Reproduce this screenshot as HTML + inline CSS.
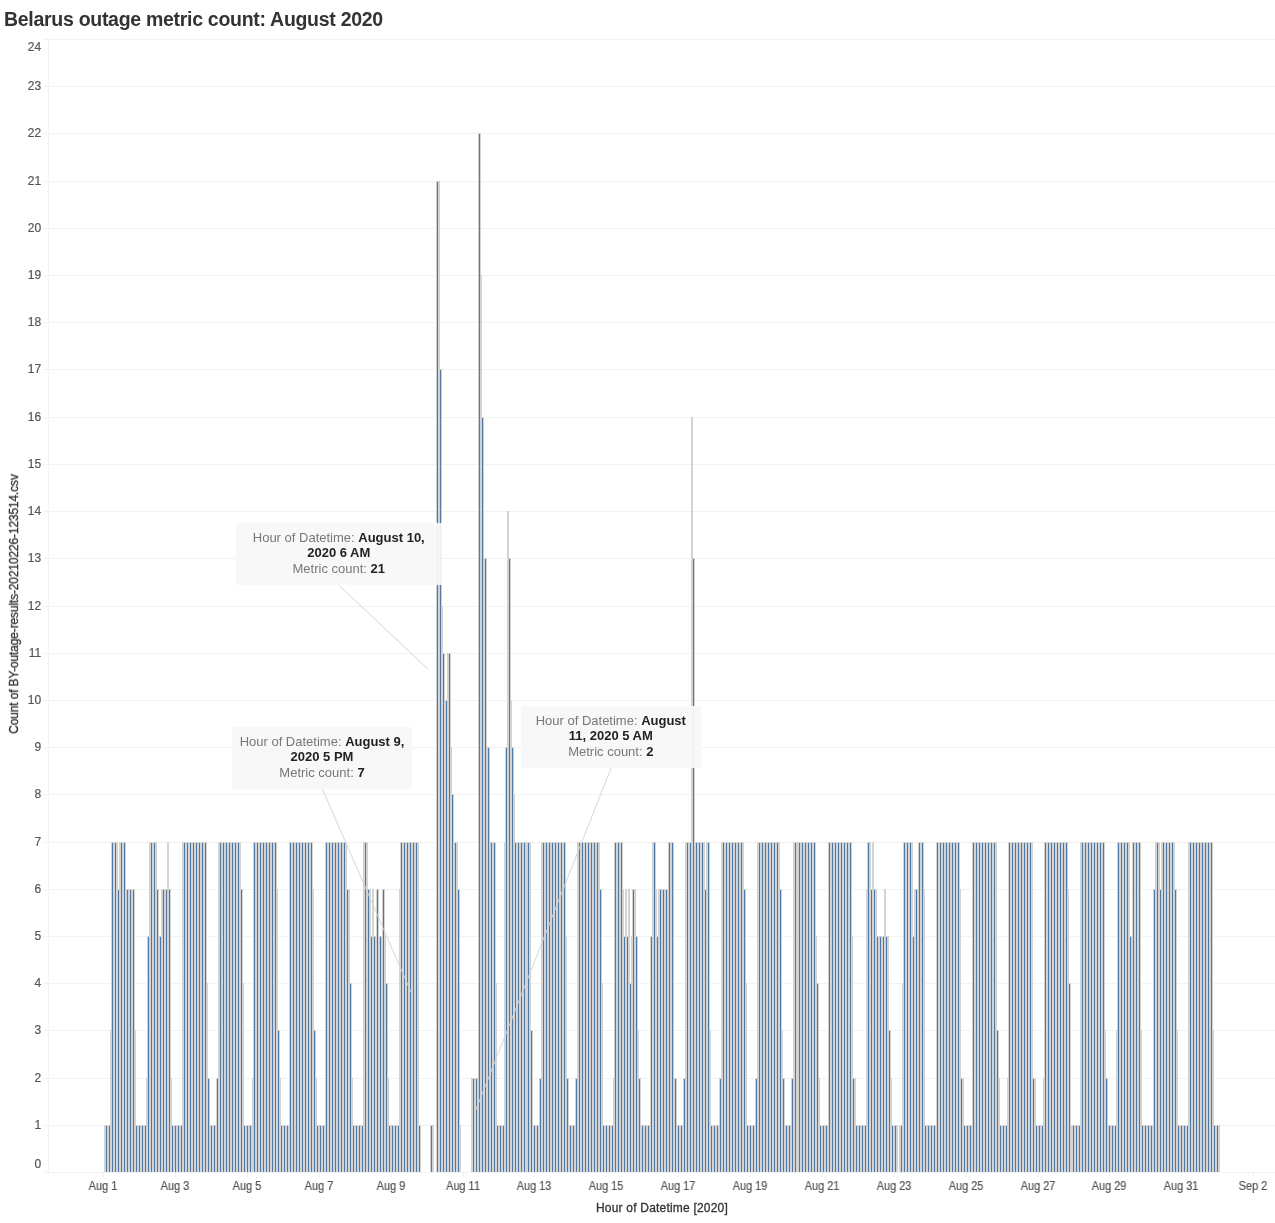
<!DOCTYPE html><html><head><meta charset="utf-8"><title>Belarus outage metric count: August 2020</title><style>
html,body{margin:0;padding:0;background:#fff}
body{width:1275px;height:1223px;position:relative;overflow:hidden;font-family:"Liberation Sans",sans-serif}
.t{position:absolute;white-space:nowrap;line-height:1;will-change:transform}
.yl{font-size:12px;color:#555;-webkit-text-stroke:0.2px #555;width:41.2px;text-align:right;left:0}
.xl{font-size:12px;color:#555;-webkit-text-stroke:0.2px #555;width:60px;text-align:center;transform:scaleX(0.91);transform-origin:50% 50%}
.box{position:absolute;background:rgba(248,248,248,0.94);font-size:13px;color:#787878;text-align:center;line-height:15.3px;box-sizing:border-box;will-change:transform}
.box b{color:#222}

</style></head><body>
<svg width="1275" height="1223" viewBox="0 0 1275 1223" style="position:absolute;left:0;top:0" shape-rendering="crispEdges"><path d="M43 1172.5H1275M43 1125.5H1275M43 1078.5H1275M43 1030.5H1275M43 983.5H1275M43 936.5H1275M43 889.5H1275M43 842.5H1275M43 794.5H1275M43 747.5H1275M43 700.5H1275M43 653.5H1275M43 606.5H1275M43 558.5H1275M43 511.5H1275M43 464.5H1275M43 417.5H1275M43 369.5H1275M43 322.5H1275M43 275.5H1275M43 228.5H1275M43 181.5H1275M43 133.5H1275M43 86.5H1275M43 39.5H1275" stroke="#f2f2f2" stroke-width="1" fill="none"/><path d="M48.5 39V1174" stroke="#f4f4f4" stroke-width="1" fill="none"/><path d="M103.5 1173V1177M175.5 1173V1177M247.5 1173V1177M319.5 1173V1177M391.5 1173V1177M463.5 1173V1177M534.5 1173V1177M606.5 1173V1177M678.5 1173V1177M750.5 1173V1177M822.5 1173V1177M894.5 1173V1177M966.5 1173V1177M1038.5 1173V1177M1109.5 1173V1177M1181.5 1173V1177M1253.5 1173V1177" stroke="#efefef" stroke-width="1" fill="none"/><path d="M83.5 1173V1174M119.5 1173V1174M155.5 1173V1174M191.5 1173V1174M227.5 1173V1174M263.5 1173V1174M299.5 1173V1174M335.5 1173V1174M371.5 1173V1174M407.5 1173V1174M443.5 1173V1174M479.5 1173V1174M515.5 1173V1174M550.5 1173V1174M586.5 1173V1174M622.5 1173V1174M658.5 1173V1174M694.5 1173V1174M730.5 1173V1174M766.5 1173V1174M802.5 1173V1174M838.5 1173V1174M874.5 1173V1174M910.5 1173V1174M946.5 1173V1174M982.5 1173V1174M1018.5 1173V1174M1054.5 1173V1174M1089.5 1173V1174M1125.5 1173V1174M1161.5 1173V1174M1197.5 1173V1174M1233.5 1173V1174M1269.5 1173V1174" stroke="#f4f4f4" stroke-width="1" fill="none"/><path d="M104 1125H110V1172H104ZM110 1030H111V1172H110ZM111 842H118V1172H111ZM118 889H119V1172H118ZM119 842H126V1172H119ZM126 889H135V1172H126ZM135 1030H136V1172H135ZM136 1125H146V1172H136ZM146 1078H147V1172H146ZM147 936H149V1172H147ZM149 842H157V1172H149ZM157 889H159V1172H157ZM159 936H161V1172H159ZM161 889H167V1172H161ZM167 842H169V1172H167ZM169 889H171V1172H169ZM171 1078H172V1172H171ZM172 1125H182V1172H172ZM182 842H207V1172H182ZM207 983H208V1172H207ZM208 1078H210V1172H208ZM210 1125H216V1172H210ZM216 1078H218V1172H216ZM218 842H241V1172H218ZM241 889H243V1172H241ZM243 983H244V1172H243ZM244 1125H252V1172H244ZM252 1078H253V1172H252ZM253 842H277V1172H253ZM277 889H278V1172H277ZM278 1030H280V1172H278ZM280 1078H281V1172H280ZM281 1125H289V1172H281ZM289 842H313V1172H289ZM313 889H314V1172H313ZM314 1030H316V1172H314ZM316 1078H317V1172H316ZM317 1125H325V1172H317ZM325 842H347V1172H325ZM347 889H350V1172H347ZM350 983H352V1172H350ZM352 1078H353V1172H352ZM353 1125H363V1172H353ZM363 842H368V1172H363ZM368 889H371V1172H368ZM371 936H372V1172H371ZM372 889H374V1172H372ZM374 936H376V1172H374ZM376 889H379V1172H376ZM379 936H382V1172H379ZM382 889H385V1172H382ZM385 936H386V1172H385ZM386 983H388V1172H386ZM388 1078H389V1172H388ZM389 1125H399V1172H389ZM399 889H400V1172H399ZM400 842H419V1172H400ZM419 1125H421V1172H419ZM430 1125H434V1172H430ZM436 181H440V1172H436ZM440 369H442V1172H440ZM442 606H443V1172H442ZM443 653H445V1172H443ZM445 700H447V1172H445ZM447 653H451V1172H447ZM451 747H452V1172H451ZM452 794H454V1172H452ZM454 842H458V1172H454ZM458 889H460V1172H458ZM460 1125H461V1172H460ZM471 1078H478V1172H471ZM478 133H481V1172H478ZM481 275H482V1172H481ZM482 417H484V1172H482ZM484 558H487V1172H484ZM487 747H490V1172H487ZM490 842H496V1172H490ZM496 983H497V1172H496ZM497 1125H504V1172H497ZM504 842H505V1172H504ZM505 747H507V1172H505ZM507 511H509V1172H507ZM509 558H511V1172H509ZM511 700H512V1172H511ZM512 747H514V1172H512ZM514 794H515V1172H514ZM515 842H531V1172H515ZM531 1030H533V1172H531ZM533 1125H539V1172H533ZM539 1078H541V1172H539ZM541 842H566V1172H541ZM566 936H567V1172H566ZM567 1078H569V1172H567ZM569 1125H575V1172H569ZM575 1078H577V1172H575ZM577 842H600V1172H577ZM600 889H602V1172H600ZM602 983H603V1172H602ZM603 1125H613V1172H603ZM613 1078H614V1172H613ZM614 842H623V1172H614ZM623 889H624V1172H623ZM624 936H625V1172H624ZM625 889H627V1172H625ZM627 936H628V1172H627ZM628 889H630V1172H628ZM630 983H631V1172H630ZM631 936H632V1172H631ZM632 889H636V1172H632ZM636 936H638V1172H636ZM638 1030H639V1172H638ZM639 1078H641V1172H639ZM641 1125H650V1172H641ZM650 936H652V1172H650ZM652 842H656V1172H652ZM656 889H657V1172H656ZM657 936H658V1172H657ZM658 889H668V1172H658ZM668 842H674V1172H668ZM674 1078H677V1172H674ZM677 1125H683V1172H677ZM683 1078H685V1172H683ZM685 842H691V1172H685ZM691 417H693V1172H691ZM693 558H695V1172H693ZM695 842H705V1172H695ZM705 889H706V1172H705ZM706 842H710V1172H706ZM710 1030H711V1172H710ZM711 1125H719V1172H711ZM719 1078H721V1172H719ZM721 842H744V1172H721ZM744 889H746V1172H744ZM746 983H747V1172H746ZM747 1125H755V1172H747ZM755 1078H757V1172H755ZM757 842H780V1172H757ZM780 889H782V1172H780ZM782 1030H783V1172H782ZM783 1078H785V1172H783ZM785 1125H791V1172H785ZM791 1078H793V1172H791ZM793 842H816V1172H793ZM816 936H817V1172H816ZM817 983H819V1172H817ZM819 1078H820V1172H819ZM820 1125H828V1172H820ZM828 842H852V1172H828ZM852 936H853V1172H852ZM853 1078H856V1172H853ZM856 1125H866V1172H856ZM866 889H867V1172H866ZM867 842H871V1172H867ZM871 889H872V1172H871ZM872 842H874V1172H872ZM874 889H877V1172H874ZM877 936H884V1172H877ZM884 889H886V1172H884ZM886 936H889V1172H886ZM889 1030H891V1172H889ZM891 1078H892V1172H891ZM892 1125H898V1172H892ZM899 1125H902V1172H899ZM902 983H903V1172H902ZM903 842H913V1172H903ZM913 936H914V1172H913ZM914 889H918V1172H914ZM918 842H924V1172H918ZM924 889H925V1172H924ZM925 1125H936V1172H925ZM936 842H960V1172H936ZM960 889H961V1172H960ZM961 1078H964V1172H961ZM964 1125H972V1172H964ZM972 842H997V1172H972ZM997 1030H999V1172H997ZM999 1078H1000V1172H999ZM1000 1125H1007V1172H1000ZM1007 1078H1008V1172H1007ZM1008 842H1033V1172H1008ZM1033 1078H1036V1172H1033ZM1036 1125H1043V1172H1036ZM1043 1078H1044V1172H1043ZM1044 842H1068V1172H1044ZM1068 889H1069V1172H1068ZM1069 983H1071V1172H1069ZM1071 1125H1080V1172H1071ZM1080 842H1105V1172H1080ZM1105 1030H1106V1172H1105ZM1106 1078H1108V1172H1106ZM1108 1125H1116V1172H1108ZM1116 1030H1117V1172H1116ZM1117 842H1130V1172H1117ZM1130 936H1132V1172H1130ZM1132 842H1141V1172H1132ZM1141 1030H1142V1172H1141ZM1142 1125H1153V1172H1142ZM1153 889H1155V1172H1153ZM1155 842H1160V1172H1155ZM1160 889H1161V1172H1160ZM1161 842H1175V1172H1161ZM1175 889H1177V1172H1175ZM1177 1030H1178V1172H1177ZM1178 1125H1188V1172H1178ZM1188 842H1213V1172H1188ZM1213 1030H1214V1172H1213ZM1214 1125H1220V1172H1214Z" fill="#d3d3d3"/><path d="M106.5 1126V1172M109.5 1126V1172M112.5 843V1172M115.5 843V1172M118.5 890V1172M121.5 843V1172M124.5 843V1172M127.5 890V1172M130.5 890V1172M133.5 890V1172M136.5 1126V1172M139.5 1126V1172M142.5 1126V1172M145.5 1126V1172M148.5 937V1172M151.5 843V1172M154.5 843V1172M157.5 890V1172M160.5 937V1172M163.5 890V1172M166.5 890V1172M169.5 890V1172M172.5 1126V1172M175.5 1126V1172M178.5 1126V1172M181.5 1126V1172M184.5 843V1172M187.5 843V1172M190.5 843V1172M193.5 843V1172M196.5 843V1172M199.5 843V1172M202.5 843V1172M205.5 843V1172M208.5 1079V1172M211.5 1126V1172M214.5 1126V1172M217.5 1079V1172M220.5 843V1172M223.5 843V1172M226.5 843V1172M229.5 843V1172M232.5 843V1172M235.5 843V1172M238.5 843V1172M241.5 890V1172M244.5 1126V1172M247.5 1126V1172M250.5 1126V1172M254.5 843V1172M257.5 843V1172M260.5 843V1172M263.5 843V1172M266.5 843V1172M269.5 843V1172M272.5 843V1172M275.5 843V1172M278.5 1031V1172M281.5 1126V1172M284.5 1126V1172M287.5 1126V1172M290.5 843V1172M293.5 843V1172M296.5 843V1172M299.5 843V1172M302.5 843V1172M305.5 843V1172M308.5 843V1172M311.5 843V1172M314.5 1031V1172M317.5 1126V1172M320.5 1126V1172M323.5 1126V1172M326.5 843V1172M329.5 843V1172M332.5 843V1172M335.5 843V1172M338.5 843V1172M341.5 843V1172M344.5 843V1172M347.5 890V1172M350.5 984V1172M353.5 1126V1172M356.5 1126V1172M359.5 1126V1172M362.5 1126V1172M365.5 843V1172M368.5 890V1172M371.5 937V1172M374.5 937V1172M377.5 890V1172M380.5 937V1172M383.5 890V1172M386.5 984V1172M389.5 1126V1172M392.5 1126V1172M395.5 1126V1172M398.5 1126V1172M401.5 843V1172M404.5 843V1172M407.5 843V1172M410.5 843V1172M413.5 843V1172M416.5 843V1172M419.5 1126V1172M431.5 1126V1172M437.5 182V1172M440.5 370V1172M443.5 654V1172M446.5 701V1172M449.5 654V1172M452.5 795V1172M455.5 843V1172M458.5 890V1172M473.5 1079V1172M476.5 1079V1172M479.5 134V1172M482.5 418V1172M485.5 559V1172M488.5 748V1172M491.5 843V1172M494.5 843V1172M497.5 1126V1172M500.5 1126V1172M503.5 1126V1172M506.5 748V1172M509.5 559V1172M512.5 748V1172M515.5 843V1172M518.5 843V1172M521.5 843V1172M524.5 843V1172M528.5 843V1172M531.5 1031V1172M534.5 1126V1172M537.5 1126V1172M540.5 1079V1172M543.5 843V1172M546.5 843V1172M549.5 843V1172M552.5 843V1172M555.5 843V1172M558.5 843V1172M561.5 843V1172M564.5 843V1172M567.5 1079V1172M570.5 1126V1172M573.5 1126V1172M576.5 1079V1172M579.5 843V1172M582.5 843V1172M585.5 843V1172M588.5 843V1172M591.5 843V1172M594.5 843V1172M597.5 843V1172M600.5 890V1172M603.5 1126V1172M606.5 1126V1172M609.5 1126V1172M612.5 1126V1172M615.5 843V1172M618.5 843V1172M621.5 843V1172M624.5 937V1172M627.5 937V1172M630.5 984V1172M633.5 890V1172M636.5 937V1172M639.5 1079V1172M642.5 1126V1172M645.5 1126V1172M648.5 1126V1172M651.5 937V1172M654.5 843V1172M657.5 937V1172M660.5 890V1172M663.5 890V1172M666.5 890V1172M669.5 843V1172M672.5 843V1172M675.5 1079V1172M678.5 1126V1172M681.5 1126V1172M684.5 1079V1172M687.5 843V1172M690.5 843V1172M693.5 559V1172M696.5 843V1172M699.5 843V1172M702.5 843V1172M705.5 890V1172M708.5 843V1172M711.5 1126V1172M714.5 1126V1172M717.5 1126V1172M720.5 1079V1172M723.5 843V1172M726.5 843V1172M729.5 843V1172M732.5 843V1172M735.5 843V1172M738.5 843V1172M741.5 843V1172M744.5 890V1172M747.5 1126V1172M750.5 1126V1172M753.5 1126V1172M756.5 1079V1172M759.5 843V1172M762.5 843V1172M765.5 843V1172M768.5 843V1172M771.5 843V1172M774.5 843V1172M777.5 843V1172M780.5 890V1172M783.5 1079V1172M786.5 1126V1172M789.5 1126V1172M792.5 1079V1172M795.5 843V1172M799.5 843V1172M802.5 843V1172M805.5 843V1172M808.5 843V1172M811.5 843V1172M814.5 843V1172M817.5 984V1172M820.5 1126V1172M823.5 1126V1172M826.5 1126V1172M829.5 843V1172M832.5 843V1172M835.5 843V1172M838.5 843V1172M841.5 843V1172M844.5 843V1172M847.5 843V1172M850.5 843V1172M853.5 1079V1172M856.5 1126V1172M859.5 1126V1172M862.5 1126V1172M865.5 1126V1172M868.5 843V1172M871.5 890V1172M874.5 890V1172M877.5 937V1172M880.5 937V1172M883.5 937V1172M886.5 937V1172M889.5 1031V1172M892.5 1126V1172M895.5 1126V1172M901.5 1126V1172M904.5 843V1172M907.5 843V1172M910.5 843V1172M913.5 937V1172M916.5 890V1172M919.5 843V1172M922.5 843V1172M925.5 1126V1172M928.5 1126V1172M931.5 1126V1172M934.5 1126V1172M937.5 843V1172M940.5 843V1172M943.5 843V1172M946.5 843V1172M949.5 843V1172M952.5 843V1172M955.5 843V1172M958.5 843V1172M961.5 1079V1172M964.5 1126V1172M967.5 1126V1172M970.5 1126V1172M973.5 843V1172M976.5 843V1172M979.5 843V1172M982.5 843V1172M985.5 843V1172M988.5 843V1172M991.5 843V1172M994.5 843V1172M997.5 1031V1172M1000.5 1126V1172M1003.5 1126V1172M1006.5 1126V1172M1009.5 843V1172M1012.5 843V1172M1015.5 843V1172M1018.5 843V1172M1021.5 843V1172M1024.5 843V1172M1027.5 843V1172M1030.5 843V1172M1033.5 1079V1172M1036.5 1126V1172M1039.5 1126V1172M1042.5 1126V1172M1045.5 843V1172M1048.5 843V1172M1051.5 843V1172M1054.5 843V1172M1057.5 843V1172M1060.5 843V1172M1063.5 843V1172M1066.5 843V1172M1069.5 984V1172M1073.5 1126V1172M1076.5 1126V1172M1079.5 1126V1172M1082.5 843V1172M1085.5 843V1172M1088.5 843V1172M1091.5 843V1172M1094.5 843V1172M1097.5 843V1172M1100.5 843V1172M1103.5 843V1172M1106.5 1079V1172M1109.5 1126V1172M1112.5 1126V1172M1115.5 1126V1172M1118.5 843V1172M1121.5 843V1172M1124.5 843V1172M1127.5 843V1172M1130.5 937V1172M1133.5 843V1172M1136.5 843V1172M1139.5 843V1172M1142.5 1126V1172M1145.5 1126V1172M1148.5 1126V1172M1151.5 1126V1172M1154.5 890V1172M1157.5 843V1172M1160.5 890V1172M1163.5 843V1172M1166.5 843V1172M1169.5 843V1172M1172.5 843V1172M1175.5 890V1172M1178.5 1126V1172M1181.5 1126V1172M1184.5 1126V1172M1187.5 1126V1172M1190.5 843V1172M1193.5 843V1172M1196.5 843V1172M1199.5 843V1172M1202.5 843V1172M1205.5 843V1172M1208.5 843V1172M1211.5 843V1172M1214.5 1126V1172M1217.5 1126V1172" stroke="#4e79a7" stroke-width="1" fill="none"/></svg>
<div class="t" id="title" style="left:4px;top:10px;font-size:19.5px;font-weight:bold;color:#333;letter-spacing:-0.29px">Belarus outage metric count: August 2020</div>
<div class="t yl" style="top:1157.9px">0</div>
<div class="t yl" style="top:1118.8px">1</div>
<div class="t yl" style="top:1071.8px">2</div>
<div class="t yl" style="top:1023.8px">3</div>
<div class="t yl" style="top:976.8px">4</div>
<div class="t yl" style="top:929.8px">5</div>
<div class="t yl" style="top:882.8px">6</div>
<div class="t yl" style="top:835.8px">7</div>
<div class="t yl" style="top:787.8px">8</div>
<div class="t yl" style="top:740.8px">9</div>
<div class="t yl" style="top:693.8px">10</div>
<div class="t yl" style="top:646.8px">11</div>
<div class="t yl" style="top:599.8px">12</div>
<div class="t yl" style="top:551.8px">13</div>
<div class="t yl" style="top:504.8px">14</div>
<div class="t yl" style="top:457.8px">15</div>
<div class="t yl" style="top:410.8px">16</div>
<div class="t yl" style="top:362.8px">17</div>
<div class="t yl" style="top:315.8px">18</div>
<div class="t yl" style="top:268.8px">19</div>
<div class="t yl" style="top:221.8px">20</div>
<div class="t yl" style="top:174.8px">21</div>
<div class="t yl" style="top:126.8px">22</div>
<div class="t yl" style="top:79.8px">23</div>
<div class="t yl" style="top:40.9px">24</div>
<div class="t xl" style="left:72.7px;top:1180px">Aug 1</div>
<div class="t xl" style="left:144.7px;top:1180px">Aug 3</div>
<div class="t xl" style="left:216.7px;top:1180px">Aug 5</div>
<div class="t xl" style="left:288.7px;top:1180px">Aug 7</div>
<div class="t xl" style="left:360.7px;top:1180px">Aug 9</div>
<div class="t xl" style="left:432.7px;top:1180px">Aug 11</div>
<div class="t xl" style="left:503.7px;top:1180px">Aug 13</div>
<div class="t xl" style="left:575.7px;top:1180px">Aug 15</div>
<div class="t xl" style="left:647.7px;top:1180px">Aug 17</div>
<div class="t xl" style="left:719.7px;top:1180px">Aug 19</div>
<div class="t xl" style="left:791.7px;top:1180px">Aug 21</div>
<div class="t xl" style="left:863.7px;top:1180px">Aug 23</div>
<div class="t xl" style="left:935.7px;top:1180px">Aug 25</div>
<div class="t xl" style="left:1007.7px;top:1180px">Aug 27</div>
<div class="t xl" style="left:1078.7px;top:1180px">Aug 29</div>
<div class="t xl" style="left:1150.7px;top:1180px">Aug 31</div>
<div class="t xl" style="left:1222.7px;top:1180px">Sep 2</div>
<div class="t" id="xt" style="left:561.5px;width:200px;text-align:center;top:1201.5px;font-size:12px;color:#333;-webkit-text-stroke:0.3px #333;letter-spacing:0.2px">Hour of Datetime [2020]</div>
<div class="t" id="yt" style="left:14.2px;top:604px;font-size:12px;color:#333;-webkit-text-stroke:0.3px #333;letter-spacing:-0.15px;transform:translate(-50%,-50%) rotate(-90deg)">Count of BY-outage-results-20210226-123514.csv</div>
<svg width="1275" height="1223" style="position:absolute;left:0;top:0"><g stroke="#d4d4d4" stroke-opacity="0.95" stroke-width="1" fill="none"><path d="M338.7 585L428 669.2"/><path d="M322.4 789L411 992"/><path d="M611.1 768L475 1112"/></g></svg>
<div class="box" style="left:236px;top:523px;width:205.5px;height:61.5px;padding-top:7px">Hour of Datetime: <b>August 10,<br>2020 6 AM</b><br>Metric count: <b>21</b></div>
<div class="box" style="left:232px;top:727px;width:180px;height:61.5px;padding-top:7px">Hour of Datetime: <b>August 9,<br>2020 5 PM</b><br>Metric count: <b>7</b></div>
<div class="box" style="left:521.3px;top:706px;width:179.6px;height:61.7px;padding-top:7px">Hour of Datetime: <b>August<br>11, 2020 5 AM</b><br>Metric count: <b>2</b></div>
</body></html>
